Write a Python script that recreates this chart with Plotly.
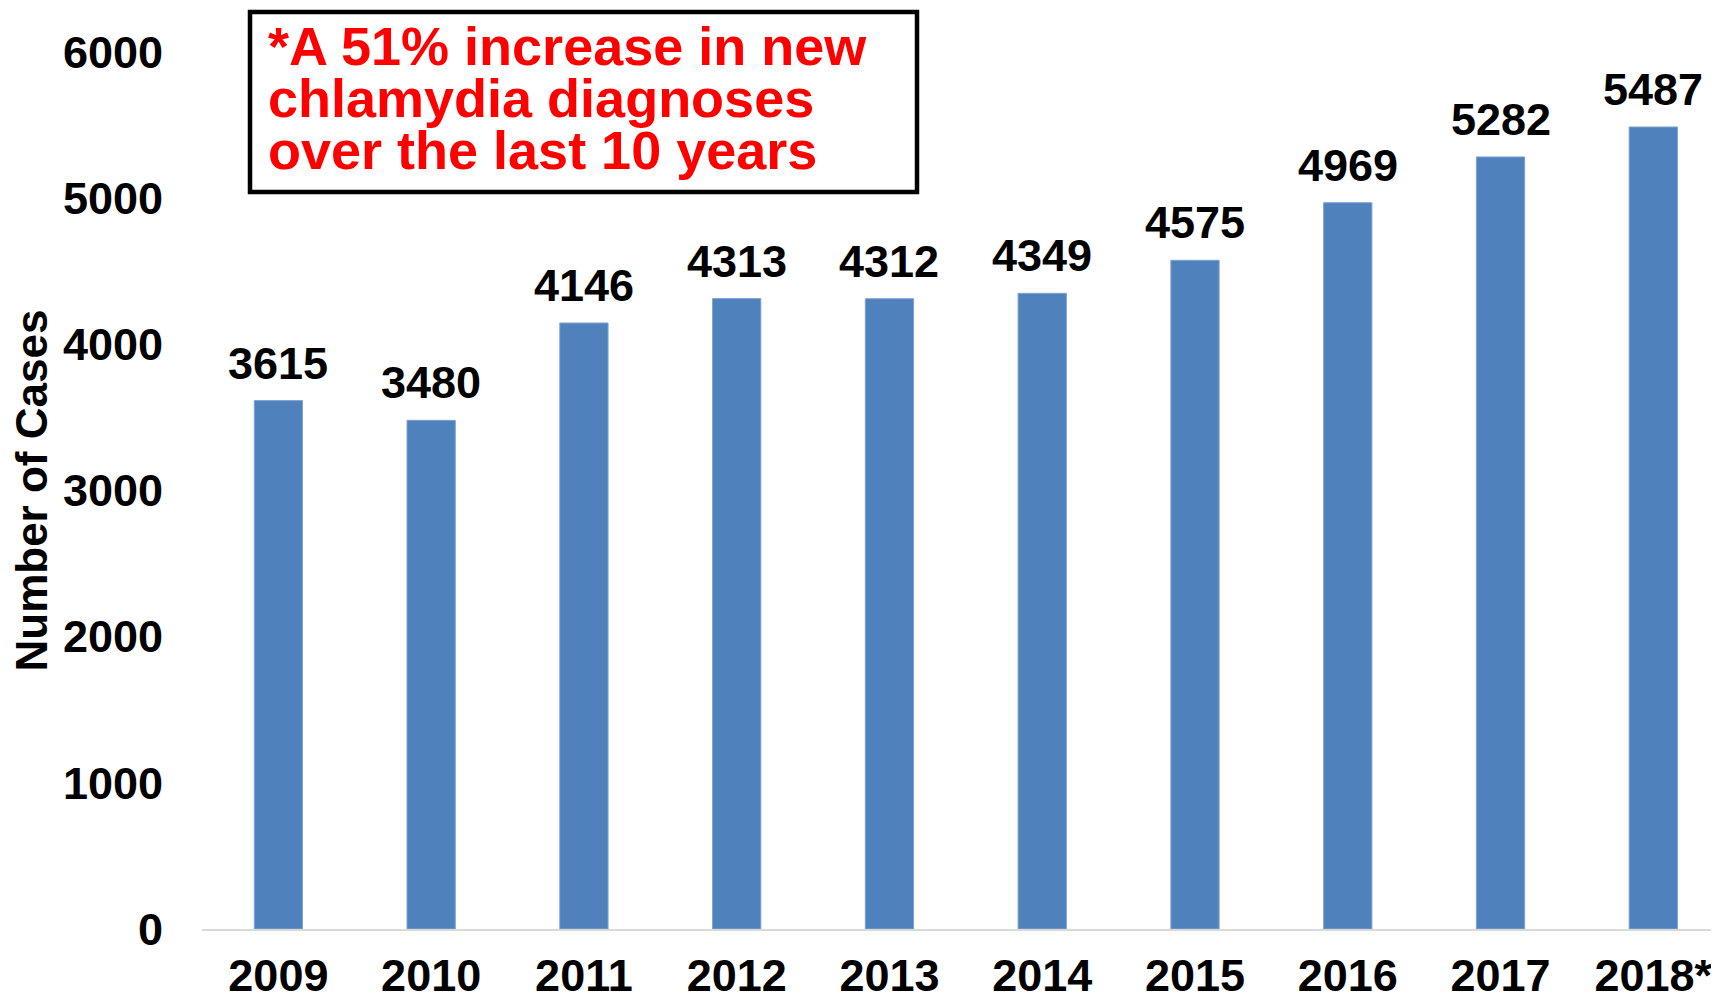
import plotly.graph_objects as go

years = ["2009", "2010", "2011", "2012", "2013", "2014", "2015", "2016", "2017", "2018*"]
cases = [3615, 3480, 4146, 4313, 4312, 4349, 4575, 4969, 5282, 5487]
y_ticks = [0, 1000, 2000, 3000, 4000, 5000, 6000]
note_lines = ["*A 51% increase in new", "chlamydia diagnoses", "over the last 10 years"]

# the page body adds an 8px offset; figure coordinates = screen - OFF
OFF = 8
W, H = 1719, 1001
L, T = 202 - OFF, 52 - OFF
PLOT_BOTTOM = 929 - OFF
R = OFF
B = H - PLOT_BOTTOM
PW, PH = W - L - R, H - T - B

FONT = "Liberation Sans, Arial, sans-serif"
BAR = "#4F81BD"


def px_x(sx):
    return (sx - OFF - L) / PW


def px_y(sy):
    return (PLOT_BOTTOM - (sy - OFF)) / PH


fig = go.Figure(go.Bar(
    x=list(range(len(years))), y=cases,
    marker=dict(color=BAR, line=dict(color="#7FA3D1", width=1)),
    width=0.316,
))

annotations = []
for i, v in enumerate(cases):
    annotations.append(dict(
        x=i, y=v, xref="x", yref="y", text=str(v), showarrow=False,
        yanchor="bottom", xanchor="center", yshift=10,
        font=dict(family=FONT, size=45, color="black", weight="bold"),
    ))

# note box lines (screen y of each line's middle)
line_centers = [46, 98, 150]
for txt, cy in zip(note_lines, line_centers):
    annotations.append(dict(
        x=px_x(266), y=px_y(cy), xref="paper", yref="paper",
        text=txt, showarrow=False, xanchor="left", yanchor="middle",
        font=dict(family=FONT, size=54, color="#FF0000", weight="bold"),
    ))

# y-axis title
annotations.append(dict(
    x=px_x(31), y=0.5, xref="paper", yref="paper",
    text="Number of Cases", showarrow=False, textangle=-90,
    xanchor="center", yanchor="middle",
    font=dict(family=FONT, size=44, color="black", weight="bold"),
))

shapes = [dict(
    type="rect", xref="paper", yref="paper",
    x0=px_x(250), x1=px_x(917),
    y0=px_y(192), y1=px_y(12),
    line=dict(color="black", width=4.5), fillcolor="white", layer="below",
)]

fig.update_layout(
    width=W, height=H,
    margin=dict(l=L, r=R, t=T, b=B, pad=0, autoexpand=False),
    paper_bgcolor="white", plot_bgcolor="white",
    showlegend=False,
    annotations=annotations, shapes=shapes,
    xaxis=dict(
        range=[-0.5, 9.43], tickmode="array",
        tickvals=list(range(len(years))), ticktext=years,
        showgrid=False, zeroline=False, automargin=False,
        showline=True, linecolor="#D9D9D9", linewidth=2,
        ticks="", ticklabelstandoff=6,
        tickfont=dict(family=FONT, size=45, color="black", weight="bold"),
    ),
    yaxis=dict(
        range=[0, 6000], tickmode="array", tickvals=y_ticks,
        showgrid=False, zeroline=False, showline=False, automargin=False,
        ticks="", ticklabelstandoff=38,
        tickfont=dict(family=FONT, size=45, color="black", weight="bold"),
    ),
)

fig.write_html("out.html")
